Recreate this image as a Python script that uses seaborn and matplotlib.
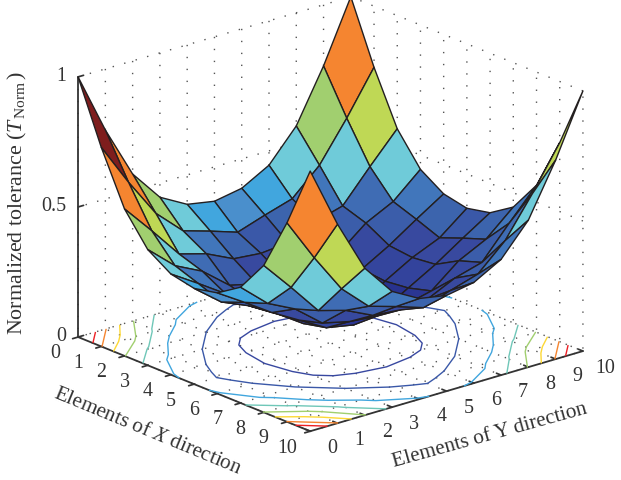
"""
Normalized tolerance surface over the array elements, with base contours.
"""

import numpy as np
import matplotlib
matplotlib.use('Agg')
import matplotlib.pyplot as plt
from matplotlib.colors import LinearSegmentedColormap, Normalize
from mpl_toolkits.mplot3d import proj3d
import seaborn as sns

X_TICKS = [0, 1, 2, 3, 4, 5, 6, 7, 8, 9, 10]
Y_TICKS = [0, 1, 2, 3, 4, 5, 6, 7, 8, 9, 10]
Z_TICKS = [0, 0.5, 1]
Z_TICK_LABELS = ['0', '0.5', '1']

# Rows are X elements and columns are Y elements
TOLERANCE = [
    [1.00, .765, .565, .445, .387, .368, .387, .445, .565, .765, 1.00],
    [.765, .60, .45, .352, .32, .285, .32, .352, .45, .60, .765],
    [.565, .45, .33, .30, .25, .24, .25, .30, .33, .45, .565],
    [.445, .352, .30, .215, .19, .18, .19, .215, .30, .352, .445],
    [.387, .32, .25, .19, .13, .11, .13, .19, .25, .32, .387],
    [.368, .285, .24, .18, .11, .08, .11, .18, .24, .285, .368],
    [.387, .32, .25, .19, .13, .11, .13, .19, .25, .32, .387],
    [.445, .352, .30, .215, .19, .18, .19, .215, .30, .352, .445],
    [.565, .45, .33, .30, .25, .24, .25, .30, .33, .45, .565],
    [.765, .60, .45, .352, .32, .285, .32, .352, .45, .60, .765],
    [1.00, .765, .565, .445, .387, .368, .387, .445, .565, .765, 1.00],
]

CONTOUR_LEVELS = [.205, .30, .38, .47, .56, .66, .76, .85]
CONTOUR_COLORS = ['#3848A0', '#3A58A8', '#41A6DE', '#6FC7B8',
                  '#A1CF6F', '#FDD835', '#F58530', '#ED2024']

# Printed jet colours, as (tolerance, colour)
FACE_STOPS = [
    (0.0, '#262F8B'), (.08, '#262F8B'), (.11, '#28328E'), (.13, '#2B3693'),
    (.18, '#33439C'), (.215, '#37499F'), (.25, '#38499F'), (.285, '#3A58A8'),
    (.32, '#3C64AD'), (.33, '#3F6DB4'), (.352, '#4176BB'), (.368, '#4A90CC'),
    (.387, '#41A6DE'), (.445, '#6FCBD9'), (.50, '#6FCBD9'), (.565, '#A1CF6F'),
    (.60, '#BFD855'), (.68, '#FDD835'), (.765, '#F58530'), (.88, '#ED2024'),
    (1.0, '#7E1D1D'),
]

INK = '#333333'
TICK_SIZE = 14.4
LABEL_SIZE = 15.2
# Square axes bigger than the figure, so the surface tips are not clipped.
# The projected origin sits at 0.095/0.185 of the axes, not at its middle.
AX_SIDE = 760
AX_LEFT = 330.5 - 0.5135 * AX_SIDE
AX_BOTTOM = (481 - 215) - 0.5135 * AX_SIDE

sns.set_theme(style='white')
plt.rcParams['font.family'] = ['Liberation Serif', 'DejaVu Serif']
plt.rcParams['mathtext.fontset'] = 'custom'
plt.rcParams['mathtext.rm'] = 'Liberation Serif'
plt.rcParams['mathtext.it'] = 'Liberation Serif:italic'


def style_axis(axis, inward, outward):
    axis.set_pane_color((1, 1, 1, 0))
    axis.pane.set_edgecolor('none')
    axis.line.set_color(INK)
    axis.line.set_linewidth(1.3)
    axis._axinfo['grid'].update(color='#555555', linewidth=1.0,
                                linestyle=(0, (1, 7.6)))
    axis._axinfo['tick'].update(inward_factor=inward, outward_factor=outward)
    axis._axinfo['tick']['color'] = INK
    axis.set_tick_params(color=INK, width=1.0)


def put_text(ax, x, y, z, label, rotation=0, ha='center', size=TICK_SIZE):
    """Write flat text at a projected 3D location, so rotation is kept."""
    a, b, _ = proj3d.proj_transform(x, y, z, ax.get_proj())
    ax.text2D(a, b, label, transform=ax.transData, rotation=rotation, ha=ha, va='center',
              rotation_mode='anchor', fontsize=size, color=INK, zorder=5)


def main():
    z = np.array(TOLERANCE)
    x, y = np.meshgrid(X_TICKS, Y_TICKS, indexing='ij')

    fig = plt.figure(figsize=(6.21, 4.81), dpi=100)
    ax = fig.add_axes([AX_LEFT / 621, AX_BOTTOM / 481, AX_SIDE / 621, AX_SIDE / 481],
                      projection='3d')
    ax.patch.set_alpha(0)
    ax.set_proj_type('ortho')
    ax.view_init(elev=20.2, azim=-40.4)
    ax.set_box_aspect((10, 10, 7.74), zoom=560.5 / AX_SIDE)
    ax.computed_zorder = False

    cmap = LinearSegmentedColormap.from_list('printed_jet', FACE_STOPS, N=1024)
    faces = cmap(Normalize(0, 1)(z[:-1, :-1]))

    ax.contour(x, y, z, levels=CONTOUR_LEVELS, offset=0, zdir='z',
               colors=sns.color_palette(CONTOUR_COLORS), linewidths=1.0, zorder=1)
    ax.plot_surface(x, y, z, rstride=1, cstride=1, facecolors=faces, shade=False,
                    edgecolor='#231F20', linewidth=1.0, antialiased=True, zorder=2)

    ax.set_xlim(0, 10)
    ax.set_ylim(0, 10)
    ax.set_zlim(0, 1)
    ax.set_xticks(X_TICKS)
    ax.set_yticks(Y_TICKS)
    ax.set_zticks(Z_TICKS)
    ax.set_xticklabels([])
    ax.set_yticklabels([])
    ax.set_zticklabels([])
    ax.zaxis.set_ticks_position('lower')

    style_axis(ax.xaxis, 0.25, 0.0)
    style_axis(ax.yaxis, 0.0, 0.25)
    style_axis(ax.zaxis, 0.0, 0.25)

    for t in X_TICKS:
        put_text(ax, t, -0.85, -0.035, str(t))
    for t in Y_TICKS:
        put_text(ax, 10.95, t, -0.03, str(t))
    for t, lab in zip(Z_TICKS, Z_TICK_LABELS):
        put_text(ax, 0, -0.44, t + 0.02, lab, ha='right')

    put_text(ax, 5, -1.7, -0.125, 'Elements of $X$ direction', rotation=-22.5, size=LABEL_SIZE)
    put_text(ax, 11.87, 5, -0.1, 'Elements of Y direction', rotation=15.5, size=LABEL_SIZE)
    put_text(ax, 0, -2.23, 0.59, r'Normalized tolerance ($T_{\,\mathrm{Norm}}\,$)',
             rotation=90, size=LABEL_SIZE + 0.6)

    fig.savefig('out.png', dpi=100)
    plt.close(fig)


if __name__ == "__main__":
    main()
